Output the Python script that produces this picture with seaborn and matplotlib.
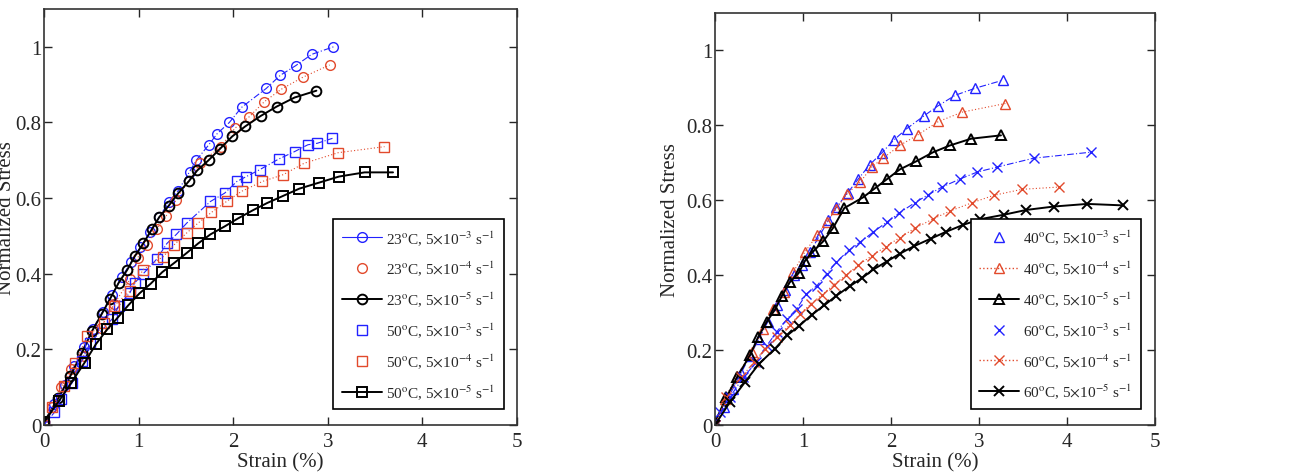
import numpy as np
import pandas as pd
import matplotlib
matplotlib.use("Agg")
import matplotlib.pyplot as plt
from matplotlib.lines import Line2D
import seaborn as sns

# ---- left panel: 23C / 50C ----
c23_e3_x = [0, 0.11, 0.22, 0.32, 0.42, 0.52, 0.62, 0.72, 0.82, 0.92, 1.02, 1.12, 1.22, 1.32, 1.42,
            1.54, 1.61, 1.74, 1.83, 1.96, 2.09, 2.35, 2.50, 2.66, 2.83, 3.06]
c23_e3_y = [0, 0.055, 0.105, 0.155, 0.205, 0.255, 0.30, 0.345, 0.39, 0.43, 0.47, 0.51, 0.55, 0.59, 0.62,
            0.67, 0.70, 0.74, 0.77, 0.80, 0.84, 0.89, 0.925, 0.95, 0.98, 1.0]

c23_e4_x = [0, 0.09, 0.18, 0.29, 0.42, 0.60, 0.74, 0.91, 0.99, 1.09, 1.19, 1.29, 1.40, 1.65, 1.87,
            2.02, 2.17, 2.33, 2.51, 2.74, 3.02]
c23_e4_y = [0, 0.047, 0.10, 0.148, 0.183, 0.257, 0.319, 0.385, 0.442, 0.477, 0.517, 0.552, 0.596, 0.692, 0.736,
            0.785, 0.815, 0.855, 0.888, 0.92, 0.952]

c23_e5_x = [0, 0.15, 0.28, 0.40, 0.51, 0.61, 0.70, 0.79, 0.88, 0.96, 1.05, 1.14, 1.22, 1.32, 1.42,
            1.53, 1.62, 1.74, 1.86, 1.99, 2.13, 2.29, 2.46, 2.65, 2.88]
c23_e5_y = [0.007, 0.07, 0.13, 0.19, 0.249, 0.293, 0.334, 0.376, 0.41, 0.446, 0.48, 0.517, 0.55, 0.58, 0.613,
            0.644, 0.673, 0.70, 0.73, 0.763, 0.79, 0.817, 0.842, 0.866, 0.884]

c50_e3_x = [0, 0.11, 0.18, 0.30, 0.40, 0.49, 0.72, 0.79, 0.91, 0.96, 1.05, 1.19, 1.30, 1.40, 1.51,
            1.76, 1.91, 2.04, 2.14, 2.28, 2.48, 2.65, 2.79, 2.89, 3.05]
c50_e3_y = [0, 0.033, 0.069, 0.112, 0.17, 0.218, 0.28, 0.315, 0.35, 0.376, 0.40, 0.438, 0.48, 0.504, 0.534,
            0.591, 0.613, 0.644, 0.657, 0.675, 0.703, 0.723, 0.741, 0.745, 0.758]

c50_e4_x = [0, 0.09, 0.21, 0.33, 0.46, 0.63, 0.74, 0.91, 1.05, 1.26, 1.37, 1.51, 1.63, 1.77, 1.93,
            2.09, 2.31, 2.53, 2.75, 3.11, 3.60]
c50_e4_y = [0, 0.047, 0.104, 0.165, 0.235, 0.27, 0.315, 0.354, 0.411, 0.445, 0.475, 0.508, 0.534, 0.562, 0.591,
            0.618, 0.644, 0.662, 0.692, 0.72, 0.736]

c50_e5_x = [0, 0.16, 0.29, 0.43, 0.55, 0.67, 0.78, 0.89, 1.01, 1.13, 1.25, 1.38, 1.51, 1.63, 1.76,
            1.91, 2.05, 2.21, 2.36, 2.53, 2.70, 2.91, 3.12, 3.39, 3.69]
c50_e5_y = [0.007, 0.064, 0.112, 0.165, 0.214, 0.253, 0.284, 0.316, 0.348, 0.374, 0.404, 0.429, 0.455, 0.48, 0.504,
            0.525, 0.546, 0.568, 0.587, 0.606, 0.625, 0.641, 0.657, 0.668, 0.668]

# ---- right panel: 40C / 60C ----
c40_e3_x = [0, 0.10, 0.20, 0.30, 0.40, 0.50, 0.60, 0.70, 0.80, 0.90, 0.99, 1.08, 1.19, 1.29, 1.38,
            1.51, 1.63, 1.76, 1.90, 2.03, 2.18, 2.37, 2.53, 2.73, 2.96, 3.27]
c40_e3_y = [0, 0.048, 0.095, 0.14, 0.185, 0.23, 0.275, 0.32, 0.36, 0.40, 0.426, 0.461, 0.506, 0.546, 0.581,
            0.62, 0.657, 0.695, 0.727, 0.76, 0.791, 0.824, 0.851, 0.88, 0.899, 0.92]

c40_e4_x = [0, 0.11, 0.25, 0.42, 0.55, 0.66, 0.78, 0.89, 1.02, 1.16, 1.27, 1.38, 1.50, 1.65, 1.78,
            1.91, 2.10, 2.31, 2.54, 2.81, 3.30]
c40_e4_y = [0, 0.069, 0.132, 0.194, 0.256, 0.31, 0.354, 0.408, 0.461, 0.506, 0.541, 0.577, 0.617, 0.648, 0.688,
            0.712, 0.746, 0.775, 0.81, 0.835, 0.858]

c40_e5_x = [0, 0.13, 0.25, 0.40, 0.49, 0.59, 0.68, 0.76, 0.85, 0.95, 1.02, 1.12, 1.23, 1.34, 1.47,
            1.68, 1.82, 1.96, 2.10, 2.29, 2.48, 2.67, 2.91, 3.25]
c40_e5_y = [0.007, 0.074, 0.127, 0.187, 0.234, 0.276, 0.307, 0.344, 0.381, 0.405, 0.437, 0.464, 0.49, 0.525, 0.579,
            0.607, 0.632, 0.657, 0.682, 0.704, 0.728, 0.746, 0.764, 0.773]

c60_e3_x = [0, 0.06, 0.17, 0.32, 0.47, 0.59, 0.70, 0.82, 0.93, 1.04, 1.16, 1.27, 1.38, 1.52, 1.65,
            1.80, 1.95, 2.09, 2.27, 2.42, 2.58, 2.79, 2.98, 3.20, 3.62, 4.27]
c60_e3_y = [0, 0.034, 0.074, 0.127, 0.167, 0.212, 0.248, 0.283, 0.31, 0.35, 0.372, 0.403, 0.435, 0.466, 0.488,
            0.515, 0.541, 0.565, 0.593, 0.614, 0.635, 0.657, 0.675, 0.688, 0.712, 0.728]

c60_e4_x = [0, 0.13, 0.30, 0.44, 0.57, 0.70, 0.85, 0.97, 1.09, 1.22, 1.35, 1.49, 1.63, 1.78, 1.94,
            2.10, 2.27, 2.48, 2.67, 2.92, 3.17, 3.49, 3.91]
c60_e4_y = [0, 0.074, 0.127, 0.167, 0.203, 0.234, 0.267, 0.297, 0.323, 0.348, 0.374, 0.40, 0.427, 0.451, 0.476,
            0.50, 0.525, 0.55, 0.571, 0.593, 0.613, 0.629, 0.635]

c60_e5_x = [0, 0.17, 0.34, 0.50, 0.68, 0.82, 0.96, 1.10, 1.24, 1.38, 1.53, 1.67, 1.80, 1.95, 2.10,
            2.26, 2.45, 2.63, 2.82, 3.01, 3.28, 3.54, 3.85, 4.23, 4.64]
c60_e5_y = [0, 0.061, 0.114, 0.163, 0.203, 0.239, 0.265, 0.294, 0.319, 0.345, 0.37, 0.392, 0.415, 0.436, 0.457,
            0.477, 0.497, 0.516, 0.534, 0.549, 0.561, 0.574, 0.583, 0.59, 0.586]

left_labels = [r"23$^{\rm o}$C, 5$\times$10$^{-3}$ s$^{-1}$",
               r"23$^{\rm o}$C, 5$\times$10$^{-4}$ s$^{-1}$",
               r"23$^{\rm o}$C, 5$\times$10$^{-5}$ s$^{-1}$",
               r"50$^{\rm o}$C, 5$\times$10$^{-3}$ s$^{-1}$",
               r"50$^{\rm o}$C, 5$\times$10$^{-4}$ s$^{-1}$",
               r"50$^{\rm o}$C, 5$\times$10$^{-5}$ s$^{-1}$"]
right_labels = [r"40$^{\rm o}$C, 5$\times$10$^{-3}$ s$^{-1}$",
                r"40$^{\rm o}$C, 5$\times$10$^{-4}$ s$^{-1}$",
                r"40$^{\rm o}$C, 5$\times$10$^{-5}$ s$^{-1}$",
                r"60$^{\rm o}$C, 5$\times$10$^{-3}$ s$^{-1}$",
                r"60$^{\rm o}$C, 5$\times$10$^{-4}$ s$^{-1}$",
                r"60$^{\rm o}$C, 5$\times$10$^{-5}$ s$^{-1}$"]

sns.set_style("ticks")
plt.rcParams['font.family'] = ['Liberation Serif', 'DejaVu Serif']
plt.rcParams['mathtext.fontset'] = 'stix'

BLUE = "#2222ff"
RED = "#e24a2c"
BLACK = "black"

# (color, marker, linestyle, linewidth)
styles = [
    (BLUE, "o", (0, (6, 2, 1, 2)), 0.8),
    (RED, "o", (0, (1, 2)), 0.8),
    (BLACK, "o", "-", 1.4),
    (BLUE, "s", (0, (6, 2, 1, 2)), 0.8),
    (RED, "s", (0, (1, 2)), 0.8),
    (BLACK, "s", "-", 1.4),
]
styles_r = [
    (BLUE, "^", (0, (6, 2, 1, 2)), 0.8),
    (RED, "^", (0, (1, 2)), 0.8),
    (BLACK, "^", "-", 1.4),
    (BLUE, "x", (0, (6, 2, 1, 2)), 0.8),
    (RED, "x", (0, (1, 2)), 0.8),
    (BLACK, "x", "-", 1.4),
]
left_legend_ls = ["-", "none", "-", "none", "none", "-"]
right_legend_ls = ["none", ":", "-", "none", ":", "-"]

left_series = [(c23_e3_x, c23_e3_y), (c23_e4_x, c23_e4_y), (c23_e5_x, c23_e5_y),
               (c50_e3_x, c50_e3_y), (c50_e4_x, c50_e4_y), (c50_e5_x, c50_e5_y)]
right_series = [(c40_e3_x, c40_e3_y), (c40_e4_x, c40_e4_y), (c40_e5_x, c40_e5_y),
                (c60_e3_x, c60_e3_y), (c60_e4_x, c60_e4_y), (c60_e5_x, c60_e5_y)]

fig = plt.figure(figsize=(13.08, 4.77), dpi=100)
ax1 = fig.add_axes([0.0336, 0.107, 0.3616, 0.872])
ax2 = fig.add_axes([0.5466, 0.107, 0.3364, 0.864])


def draw_panel(ax, series, stl, labels, leg_ls, anchor, ypad):
    handles = []
    for (xs, ys), (col, mk, ls, lw), lab, lls in zip(series, stl, labels, leg_ls):
        df = pd.DataFrame({"x": xs, "y": ys})
        mew = 1.0 if col != BLACK else 1.4
        sns.lineplot(data=df, x="x", y="y", ax=ax, color=col, marker=mk, linestyle=ls,
                     linewidth=lw, markersize=7, markerfacecolor="none", markeredgecolor=col,
                     markeredgewidth=mew, sort=False, estimator=None)
        handles.append(Line2D([], [], color=col, marker=mk, linestyle=lls,
                              linewidth=lw if lls != ":" else 1.0, markersize=7,
                              markerfacecolor="none", markeredgecolor=col, markeredgewidth=mew))
    ax.set_xlim(0, 5)
    ax.set_ylim(0, 1.1)
    ax.set_xticks([0, 1, 2, 3, 4, 5])
    ax.set_yticks([0, 0.2, 0.4, 0.6, 0.8, 1.0])
    ax.set_yticklabels(["0", "0.2", "0.4", "0.6", "0.8", "1"])
    ax.tick_params(direction="in", top=True, right=True, length=6, width=1, labelsize=15)
    ax.tick_params(axis="x", pad=5)
    ax.tick_params(axis="y", pad=2)
    ax.set_xlabel("Strain (%)", fontsize=15, labelpad=1)
    ax.set_ylabel("Normalized Stress", fontsize=15, labelpad=ypad)
    for sp in ax.spines.values():
        sp.set_linewidth(1.2)
        sp.set_color("#333333")
    leg = ax.legend(handles, labels, loc="lower right", bbox_to_anchor=anchor, fontsize=11,
                    handlelength=2.6, handletextpad=0.3, labelspacing=0.78, borderpad=0.55,
                    borderaxespad=0, fancybox=False, framealpha=1, edgecolor="black")
    leg.get_frame().set_linewidth(1.2)


draw_panel(ax1, left_series, styles, left_labels, left_legend_ls, (0.972, 0.038), -1)
draw_panel(ax2, right_series, styles_r, right_labels, right_legend_ls, (0.968, 0.039), 4)

fig.savefig("out.png", dpi=100)
